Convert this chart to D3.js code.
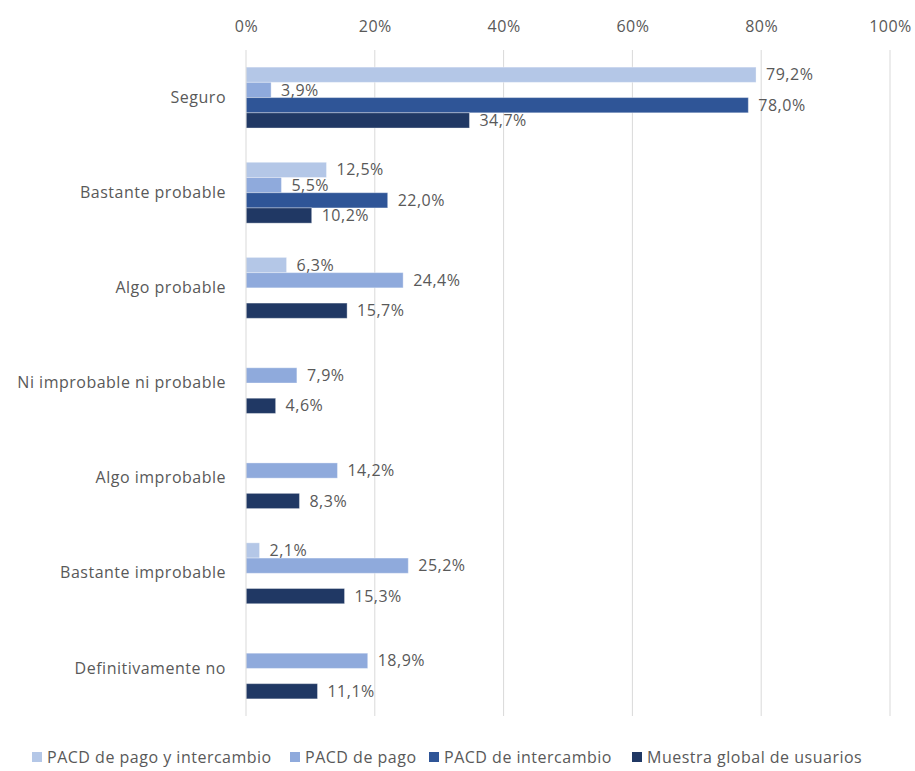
<!DOCTYPE html>
<html>
<head>
<meta charset="utf-8">
<script src="https://cdn.jsdelivr.net/npm/d3@7"></script>
<style>
  html, body { margin: 0; padding: 0; background: #fff; }
  svg text { font-family: "Open Sans", sans-serif; fill: #595959; letter-spacing: 0.5px; }
</style>
</head>
<body>
<svg id="chart" width="915" height="771"></svg>
<script>
const categories = [
  "Seguro",
  "Bastante probable",
  "Algo probable",
  "Ni improbable ni probable",
  "Algo improbable",
  "Bastante improbable",
  "Definitivamente no"
];
const seriesNames = [
  "PACD de pago y intercambio",
  "PACD de pago",
  "PACD de intercambio",
  "Muestra global de usuarios"
];
const pagoIntercambio = [79.2, 12.5, 6.3, null, null, 2.1, null];
const pago            = [3.9, 5.5, 24.4, 7.9, 14.2, 25.2, 18.9];
const intercambio     = [78.0, 22.0, null, null, null, null, null];
const muestraGlobal   = [34.7, 10.2, 15.7, 4.6, 8.3, 15.3, 11.1];
const xTicks = [0, 20, 40, 60, 80, 100];
const colors = ["#b4c7e7", "#8faadc", "#2f5597", "#203864"];

const seriesValues = [pagoIntercambio, pago, intercambio, muestraGlobal];

const svg = d3.select("#chart");
const plotLeft = 246, plotRight = 890, plotTop = 50, plotBottom = 716;
const fontSize = "16px";

const x = d3.scaleLinear().domain([0, 100]).range([plotLeft, plotRight]);
const y = d3.scaleBand().domain(categories).range([plotTop, plotBottom]).paddingInner(0.36).paddingOuter(0.18);
const sub = d3.scaleBand().domain(seriesNames).range([0, y.bandwidth()]);

const fmt = v => d3.format(".1f")(v).replace(".", ",") + "%";

// vertical gridlines
svg.append("g").selectAll("line").data(xTicks.slice(1)).join("line")
  .attr("x1", d => x(d)).attr("x2", d => x(d))
  .attr("y1", plotTop).attr("y2", plotBottom)
  .attr("stroke", "#d9d9d9").attr("stroke-width", 1);

// top axis tick labels
const xAxis = d3.axisTop(x).tickValues(xTicks).tickFormat(d => d + "%").tickSize(0).tickPadding(0);
const gx = svg.append("g").attr("transform", "translate(0,32)").call(xAxis);
gx.select(".domain").remove();
gx.selectAll("text").style("font-size", fontSize).style("font-family", "'Open Sans', sans-serif").attr("fill", "#595959").attr("dy", "0");

// category axis
const yAxis = d3.axisLeft(y).tickSize(0).tickPadding(20);
const gy = svg.append("g").attr("transform", `translate(${plotLeft},0)`).call(yAxis);
gy.select(".domain").remove();
gy.selectAll("text").style("font-size", fontSize).style("font-family", "'Open Sans', sans-serif").attr("fill", "#595959");

// bars
const rows = [];
seriesValues.forEach((vals, si) => {
  vals.forEach((v, ci) => {
    if (v !== null) rows.push({ s: seriesNames[si], si, c: categories[ci], v });
  });
});

svg.append("g").selectAll("rect").data(rows).join("rect")
  .attr("x", x(0))
  .attr("y", d => y(d.c) + sub(d.s))
  .attr("width", d => x(d.v) - x(0))
  .attr("height", sub.bandwidth())
  .attr("fill", d => colors[d.si])
  .attr("stroke", "rgba(255,255,255,0.35)")
  .attr("stroke-width", 1);

// zero line
svg.append("line")
  .attr("x1", x(0)).attr("x2", x(0)).attr("y1", plotTop).attr("y2", plotBottom)
  .attr("stroke", "#d9d9d9").attr("stroke-width", 1);

// value labels
svg.append("g").selectAll("text").data(rows).join("text")
  .attr("x", d => x(d.v) + 10)
  .attr("y", d => y(d.c) + sub(d.s) + sub.bandwidth() / 2)
  .attr("dy", "0.35em")
  .style("font-size", fontSize)
  .text(d => fmt(d.v));

// legend
const legendX = [32, 290, 429, 632];
const lg = svg.append("g").selectAll("g").data(seriesNames).join("g")
  .attr("transform", (d, i) => `translate(${legendX[i]},757)`);
lg.append("rect").attr("x", 0).attr("y", -5).attr("width", 10).attr("height", 10)
  .attr("fill", (d, i) => colors[i]);
lg.append("text").attr("x", 15).attr("dy", "0.35em").style("font-size", fontSize).text(d => d);
</script>
</body>
</html>
